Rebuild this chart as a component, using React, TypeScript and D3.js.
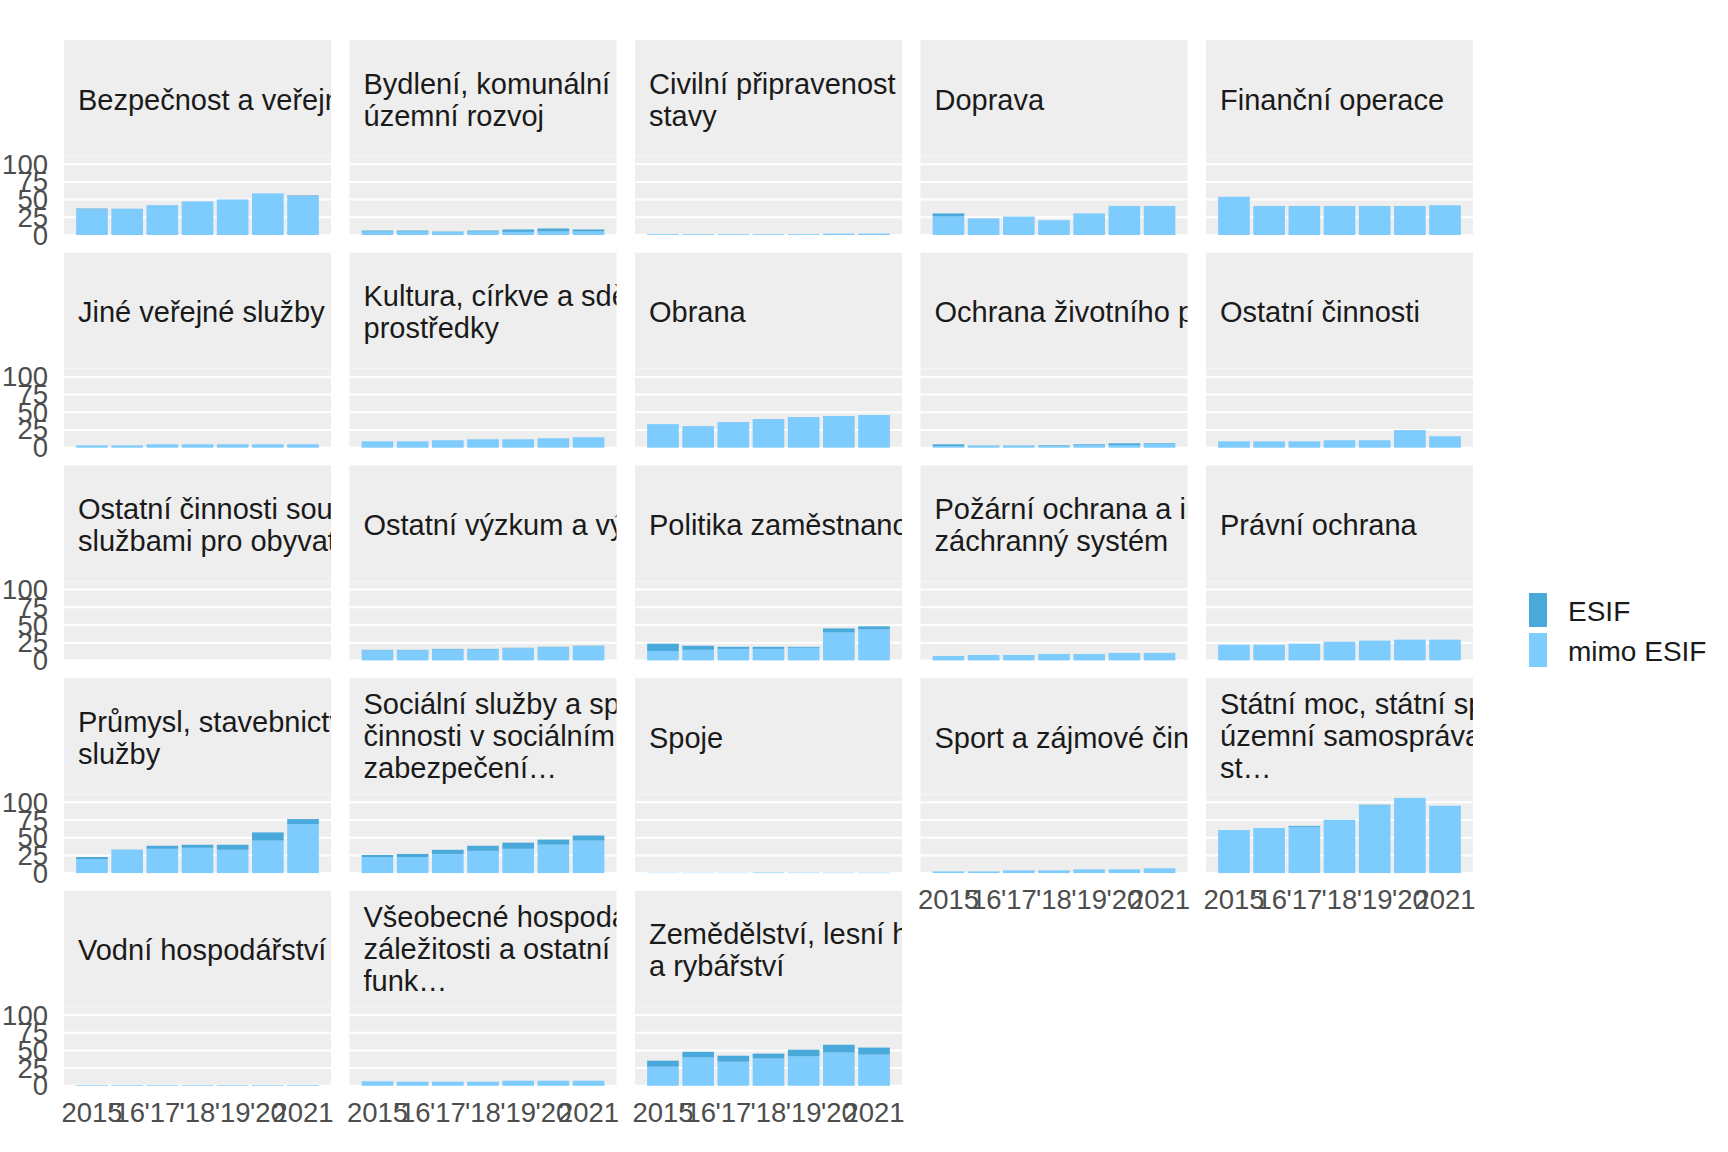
import * as d3 from "d3";

// facet labels, already wrapped the way the strips show them
const categories: string[] = [
  "Bezpečnost a veřejný pořádek",
  "Bydlení, komunální služby a\núzemní rozvoj",
  "Civilní připravenost na krizové\nstavy",
  "Doprava",
  "Finanční operace",
  "Jiné veřejné služby a činnosti",
  "Kultura, církve a sdělovací\nprostředky",
  "Obrana",
  "Ochrana životního prostředí",
  "Ostatní činnosti",
  "Ostatní činnosti související se\nslužbami pro obyvatelstvo",
  "Ostatní výzkum a vývoj",
  "Politika zaměstnanosti",
  "Požární ochrana a integrovaný\nzáchranný systém",
  "Právní ochrana",
  "Průmysl, stavebnictví, obchod a\nslužby",
  "Sociální služby a společné\nčinnosti v sociálním\nzabezpečení…",
  "Spoje",
  "Sport a zájmové činnosti",
  "Státní moc, státní správa,\núzemní samospráva a politické\nst…",
  "Vodní hospodářství",
  "Všeobecné hospodářské\nzáležitosti a ostatní\nfunk…",
  "Zemědělství, lesní hospodářství\na rybářství",
];

const years = [2015, 2016, 2017, 2018, 2019, 2020, 2021];
const yearLabels = ["2015", "'16", "'17", "'18", "'19", "'20", "2021"];

const mimoEsif: number[][] = [
  [36.2, 37.2, 42.2, 47.4, 50.2, 58.8, 54.7],
  [4.9, 4.9, 4.4, 4.9, 4.4, 4.9, 4.9],
  [1.2, 1.1, 1.1, 1.1, 1.2, 1.9, 2.0],
  [26.1, 23.5, 26, 21, 30.5, 41, 41],
  [54, 41, 41, 41, 41, 41, 42],
  [3.3, 3.3, 4.8, 4.8, 4.8, 4.8, 4.8],
  [9.0, 9.0, 10.5, 11.9, 11.9, 13.3, 14.8],
  [33.3, 30.5, 36.2, 40.5, 43.3, 44.8, 46.2],
  [2.4, 2.9, 2.9, 2.3, 3.8, 3.8, 5.2],
  [9.0, 9.0, 9.0, 10.5, 10.5, 24.8, 16.2],
  [0, 0, 0, 0, 0, 0, 0],
  [14.1, 14.1, 15.5, 15.5, 17.0, 18.4, 19.9],
  [13.3, 14.9, 16.3, 16.3, 17.8, 39.4, 43.8],
  [6.3, 7.7, 7.7, 9.1, 9.1, 10.6, 10.6],
  [22.1, 22.1, 23.6, 26.4, 27.9, 29.3, 29.3],
  [19.8, 32.9, 34.3, 35.7, 32.9, 45.9, 69.1],
  [22.7, 22.7, 27.1, 31.4, 34.3, 40.1, 45.9],
  [0.5, 0.5, 0.5, 0.4, 0.7, 0.6, 0.6],
  [2.4, 2.4, 3.9, 3.9, 5.3, 5.3, 6.8],
  [60.9, 63.8, 65.3, 75.4, 95.6, 106.3, 95.2],
  [1.0, 1.0, 1.0, 1.0, 1.0, 1.0, 1.0],
  [6.3, 5.8, 5.8, 5.8, 7.2, 7.2, 7.2],
  [27, 40, 34, 38.5, 41.5, 47, 44],
];

const esif: number[][] = [
  [1.2, 0, 0, 0, 0, 0, 1.2],
  [1.4, 1.4, 0.5, 1.4, 3.4, 4.3, 2.9],
  [0, 0, 0, 0, 0, 0, 0],
  [4.4, 0, 0, 0, 0, 0, 0],
  [0, 0, 0, 0, 0, 0, 0],
  [0, 0, 0, 0, 0, 0, 0],
  [0, 0, 0, 0, 0, 0, 0],
  [0, 0, 0, 0, 0, 0, 0],
  [2.4, 0.4, 0.4, 1.0, 1.0, 2.4, 1.0],
  [0, 0, 0, 0, 0, 0, 0],
  [0, 0, 0, 0, 0, 0, 0],
  [0.8, 0.8, 0.8, 0.8, 0.8, 0.8, 0.8],
  [10.3, 5.8, 2.9, 2.9, 1.4, 5.8, 4.3],
  [0, 0, 0, 0, 0, 0, 0],
  [0, 0, 0, 0, 0, 0, 0],
  [2.9, 0.3, 4.3, 4.3, 7.2, 11.6, 7.2],
  [2.9, 4.4, 5.8, 7.2, 8.7, 7.2, 7.2],
  [0, 0, 0, 0.4, 0, 0, 0],
  [0, 0, 0, 0, 0, 0, 0],
  [0, 0, 1.4, 0, 1.0, 0, 0],
  [0, 0, 0, 0, 0, 0, 0],
  [0, 0, 0, 0, 0, 0, 0],
  [8.5, 8, 8.5, 7, 9.5, 11, 10],
];

const yTicks = [0, 25, 50, 75, 100];
const seriesNames = ["ESIF", "mimo ESIF"];
const seriesColors = ["#4AA9DB", "#7ECBFD"];

const W = 1728;
const H = 1152;
const NCOL = 5;
const PANEL_W = 267;
const STEP_X = 285.5;
const LEFT = 64;
const TOP = 40;
const FACET_H = 195;
const STRIP_H = 116;
const STEP_Y = 212.7;
const FONT = "'Liberation Sans', Arial, Helvetica, sans-serif";

const totals = mimoEsif.map((row, i) => row.map((v, j) => v + esif[i][j]));
const yMax = (d3.max(totals.flat()) || 0) * 1.05;

const x = d3
  .scaleLinear()
  .domain([years[0] - 0.45 - 0.345, years[years.length - 1] + 0.45 + 0.345])
  .range([0, PANEL_W]);
const y = d3
  .scaleLinear()
  .domain([0, yMax])
  .range([FACET_H, STRIP_H]);
const barW = x(years[0] + 0.9) - x(years[0]);

const stack = d3.stack<any>().keys(["mimo", "esif"]);

function Facet({ idx }: { idx: number }) {
  const col = idx % NCOL;
  const row = Math.floor(idx / NCOL);
  const tx = LEFT + col * STEP_X;
  const ty = TOP + row * STEP_Y;
  const table = years.map((yr, j) => ({ year: yr, mimo: mimoEsif[idx][j], esif: esif[idx][j] }));
  const layers = stack(table);
  const lines = categories[idx].split("\n");
  const lastInCol = idx + NCOL >= categories.length;
  const lineOffset = lines.length === 3 ? 10 : 11.5;

  return (
    <g transform={`translate(${tx},${ty})`}>
      <defs>
        <clipPath id={`clip-${idx}`}>
          <rect x={0} y={0} width={PANEL_W} height={FACET_H} />
        </clipPath>
      </defs>
      <rect x={0} y={0} width={PANEL_W} height={FACET_H} fill="#EEEEEE" />
      <line x1={0} x2={PANEL_W} y1={STRIP_H} y2={STRIP_H} stroke="#F6F6F6" strokeWidth={1} />
      <g clipPath={`url(#clip-${idx})`}>
        {lines.map((ln, i) => (
          <text
            key={i}
            x={14}
            y={STRIP_H / 2 + (i - (lines.length - 1) / 2) * 32 + lineOffset}
            fontSize={29}
            fill="#1A1A1A"
            fontFamily={FONT}
          >
            {ln}
          </text>
        ))}
      </g>
      {yTicks.map((t) => (
        <line key={t} x1={0} x2={PANEL_W} y1={y(t)} y2={y(t)} stroke="#FFFFFF" strokeWidth={2} />
      ))}
      {layers.map((layer, li) =>
        layer.map((d, j) =>
          d[1] - d[0] > 0 ? (
            <rect
              key={`${li}-${j}`}
              x={x(years[j]) - barW / 2}
              y={y(d[1])}
              width={barW}
              height={y(d[0]) - y(d[1])}
              fill={seriesColors[1 - li]}
            />
          ) : null
        )
      )}
      {col === 0 &&
        yTicks.map((t) => (
          <text
            key={t}
            x={-16}
            y={y(t)}
            textAnchor="end"
            dominantBaseline="central"
            fontSize={27.5}
            fill="#4D4D4D"
            fontFamily={FONT}
          >
            {t}
          </text>
        ))}
      {lastInCol &&
        years.map((yr, j) => (
          <text
            key={yr}
            x={x(yr)}
            y={FACET_H + 36}
            textAnchor="middle"
            fontSize={27.5}
            fill="#4D4D4D"
            fontFamily={FONT}
          >
            {yearLabels[j]}
          </text>
        ))}
    </g>
  );
}

export default function App() {
  return (
    <svg
      width={W}
      height={H}
      style={{ position: "absolute", left: 0, top: 0, background: "#FFFFFF" }}
    >
      {categories.map((_, i) => (
        <Facet key={i} idx={i} />
      ))}
      <g transform="translate(1529,593)">
        {seriesNames.map((name, i) => (
          <g key={name} transform={`translate(0,${i * 40})`}>
            <rect x={0} y={0} width={18} height={34} fill={seriesColors[i]} />
            <text x={39} y={28} fontSize={28} fill="#1A1A1A" fontFamily={FONT}>
              {name}
            </text>
          </g>
        ))}
      </g>
    </svg>
  );
}
